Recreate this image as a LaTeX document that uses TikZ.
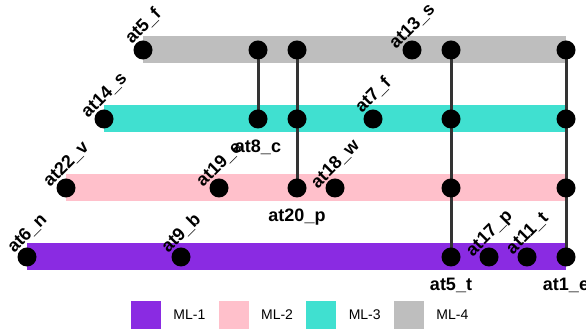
\documentclass[tikz,border=0pt]{standalone}
\usepackage{fontspec}
\setmainfont{Liberation Sans}
\usetikzlibrary{positioning}
\definecolor{mlone}{HTML}{8A2BE2}
\definecolor{mltwo}{HTML}{FFC0CB}
\definecolor{mlthree}{HTML}{40E0D0}
\definecolor{mlfour}{HTML}{BEBEBE}
\definecolor{linkgray}{HTML}{333333}
\tikzset{
  atom/.style={circle,fill=black,minimum size=19pt,inner sep=0pt},
  tag/.style={xshift=4pt,yshift=20pt,rotate=45,anchor=base,inner sep=0pt,
    font=\fontsize{18}{18}\selectfont\bfseries},
  tagbelow/.style={yshift=-34pt,anchor=base,inner sep=0pt,
    font=\fontsize{18}{18}\selectfont\bfseries},
  link/.style={linkgray,line width=3pt},
  bar/.style={line width=27pt},
  key/.style={minimum width=30pt,minimum height=28pt,inner sep=0pt},
  keytext/.style={inner sep=0pt,font=\fontsize{14}{14}\selectfont},
}

\begin{document}
\begin{tikzpicture}[x=1pt,y=1pt]
  \useasboundingbox (0,0) rectangle (586,336);
  % ML-4
  \coordinate (r4-1) at (143,286);
  \coordinate (r4-2) at (258,286);
  \coordinate (r4-3) at (297,286);
  \coordinate (r4-4) at (412,286);
  \coordinate (r4-5) at (451,286);
  \coordinate (r4-6) at (566,286);
  % ML-3
  \coordinate (r3-1) at (104,217);
  \coordinate (r3-2) at (258,217);
  \coordinate (r3-3) at (297,217);
  \coordinate (r3-4) at (373,217);
  \coordinate (r3-5) at (451,217);
  \coordinate (r3-6) at (566,217);
  % ML-2
  \coordinate (r2-1) at (66,148);
  \coordinate (r2-2) at (219,148);
  \coordinate (r2-3) at (297,148);
  \coordinate (r2-4) at (335,148);
  \coordinate (r2-5) at (451,148);
  \coordinate (r2-6) at (566,148);
  % ML-1
  \coordinate (r1-1) at (27,79);
  \coordinate (r1-2) at (181,79);
  \coordinate (r1-3) at (451,79);
  \coordinate (r1-4) at (489,79);
  \coordinate (r1-5) at (527,79);
  \coordinate (r1-6) at (566,79);

  \draw[bar,mlfour] (r4-1) -- (r4-6);
  \draw[bar,mlthree] (r3-1) -- (r3-6);
  \draw[bar,mltwo] (r2-1) -- (r2-6);
  \draw[bar,mlone] (r1-1) -- (r1-6);

  \draw[link] (r4-2) -- (r3-2);
  \draw[link] (r4-3) -- (r2-3);
  \draw[link] (r4-5) -- (r1-3);
  \draw[link] (r4-6) -- (r1-6);

  \foreach \r in {1,...,4}
    \foreach \i in {1,...,6}
      \node[atom] (a\r-\i) at (r\r-\i) {};

  \node[tag] (t-at5f) at (a4-1) {at5\_f};
  \node[tag] (t-at13s) at (a4-4) {at13\_s};
  \node[tag] (t-at14s) at (a3-1) {at14\_s};
  \node[tag] (t-at7f) at (a3-4) {at7\_f};
  \node[tag] (t-at22v) at (a2-1) {at22\_v};
  \node[tag] (t-at19e) at (a2-2) {at19\_e};
  \node[tag] (t-at18w) at (a2-4) {at18\_w};
  \node[tag] (t-at6n) at (a1-1) {at6\_n};
  \node[tag] (t-at9b) at (a1-2) {at9\_b};
  \node[tag] (t-at17p) at (a1-4) {at17\_p};
  \node[tag] (t-at11t) at (a1-5) {at11\_t};
  \node[tagbelow] (t-at8c) at (a3-2) {at8\_c};
  \node[tagbelow] (t-at20p) at (a2-3) {at20\_p};
  \node[tagbelow] (t-at5t) at (a1-3) {at5\_t};
  \node[tagbelow] (t-at1e) at (a1-6) {at1\_e};

  % legend
  \node[key,fill=mlone] (k1) at (146,21) {};
  \node[keytext,right=12pt of k1] (l1) {ML-1};
  \node[key,fill=mltwo,right=13pt of l1] (k2) {};
  \node[keytext,right=12pt of k2] (l2) {ML-2};
  \node[key,fill=mlthree,right=13pt of l2] (k3) {};
  \node[keytext,right=12pt of k3] (l3) {ML-3};
  \node[key,fill=mlfour,right=13pt of l3] (k4) {};
  \node[keytext,right=12pt of k4] (l4) {ML-4};
\end{tikzpicture}
\end{document}
